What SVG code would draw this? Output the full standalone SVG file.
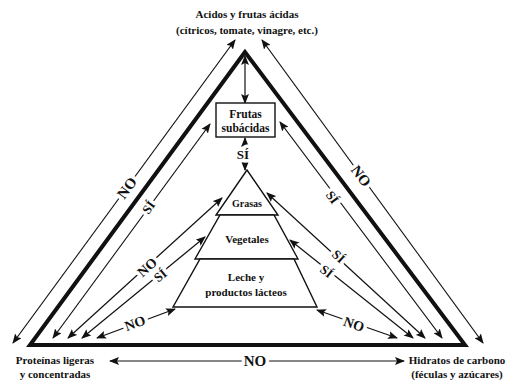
<svg xmlns="http://www.w3.org/2000/svg" width="509" height="383" viewBox="0 0 509 383">
<style>
text{font-family:"Liberation Serif","DejaVu Serif",serif;font-weight:bold;fill:#111;text-anchor:middle}
.n{font-size:11px}
.lab{font-size:14px;stroke:#fff;stroke-width:7px;paint-order:stroke;stroke-linejoin:round}
.ln{stroke:#111;stroke-width:1.2;fill:none;marker-end:url(#ah)}
.both{marker-start:url(#ah)}
.shape{fill:#fff;stroke:#111;stroke-width:1.4}
</style>
<defs>
<marker id="ah" viewBox="0 0 10 8" refX="9" refY="4" markerWidth="10" markerHeight="8" markerUnits="userSpaceOnUse" orient="auto-start-reverse">
<path d="M0,0 L10,4 L0,8 L2,4 Z" fill="#111"/>
</marker>
</defs>
<rect width="509" height="383" fill="#fff"/>
<g id="big-triangle">
<polygon points="245,52 30,345 465,345" fill="none" stroke="#111" stroke-width="4" stroke-linejoin="miter"/>
</g>
<g id="connectors">
<line class="ln both" x1="13" y1="343" x2="235" y2="40"/>
<line class="ln both" x1="262" y1="40" x2="483" y2="343"/>
<line class="ln both" x1="245" y1="56" x2="245" y2="103"/>
<line class="ln both" x1="245" y1="138" x2="245" y2="170"/>
<line class="ln both" x1="53" y1="338" x2="210" y2="124"/>
<line class="ln both" x1="68" y1="338" x2="222" y2="198"/>
<line class="ln both" x1="82" y1="338" x2="205" y2="237"/>
<line class="ln both" x1="97" y1="338" x2="175" y2="309"/>
<line class="ln both" x1="442" y1="338" x2="280" y2="122"/>
<line class="ln both" x1="425" y1="338" x2="267" y2="193"/>
<line class="ln both" x1="413" y1="338" x2="290" y2="240"/>
<line class="ln both" x1="397" y1="338" x2="317" y2="310"/>
<line class="ln both" x1="110" y1="361" x2="404" y2="361"/>
<text class="lab" transform="translate(127,188) rotate(-53.7)" y="5" style="font-size:15px">NO</text>
<text class="lab" transform="translate(361,176) rotate(53.7)" y="5" style="font-size:15px">NO</text>
<text class="lab" transform="translate(148,207) rotate(-53.7)" y="5" style="font-size:13px">SÍ</text>
<text class="lab" transform="translate(333,197) rotate(53.7)" y="5" style="font-size:13px">SÍ</text>
<text class="lab" transform="translate(147,267) rotate(-42)" y="5">NO</text>
<text class="lab" transform="translate(160,275) rotate(-39)" y="5" style="font-size:13px">SÍ</text>
<text class="lab" transform="translate(135,323) rotate(-20)" y="5">NO</text>
<text class="lab" transform="translate(339,256) rotate(42)" y="5" style="font-size:13px">SÍ</text>
<text class="lab" transform="translate(327,271) rotate(38.5)" y="5" style="font-size:13px">SÍ</text>
<text class="lab" transform="translate(354,324) rotate(19)" y="5">NO</text>
<text class="lab" x="255" y="366" style="font-size:15px">NO</text>
<text class="lab" x="243" y="159" style="font-size:13px">SÍ</text>
</g>
<g id="acidos">
<text class="n" x="247" y="18">Acidos y frutas ácidas</text>
<text class="n" x="247" y="34">(cítricos, tomate, vinagre, etc.)</text>
</g>
<g id="frutas-subacidas">
<rect class="shape" x="216" y="103" width="59" height="34"/>
<text class="n" x="245.5" y="118" style="font-size:11.5px">Frutas</text>
<text class="n" x="245.5" y="132" style="font-size:11.5px">subácidas</text>
</g>
<g id="grasas">
<polygon class="shape" points="247,170 216,215 278,215"/>
<text class="n" x="247" y="207" style="font-size:10px">Grasas</text>
</g>
<g id="vegetales">
<polygon class="shape" points="220,215 274,215 298,259 195,259"/>
<text class="n" x="247" y="243">Vegetales</text>
</g>
<g id="leche">
<polygon class="shape" points="200,259 294,259 317,307 173,307"/>
<text class="n" x="246" y="281">Leche y</text>
<text class="n" x="246" y="296">productos lácteos</text>
</g>
<g id="proteinas">
<text class="n" x="55" y="364">Proteínas ligeras</text>
<text class="n" x="55" y="378">y concentradas</text>
</g>
<g id="hidratos">
<text class="n" x="457" y="364">Hidratos de carbono</text>
<text class="n" x="457" y="378">(féculas y azúcares)</text>
</g>
</svg>
